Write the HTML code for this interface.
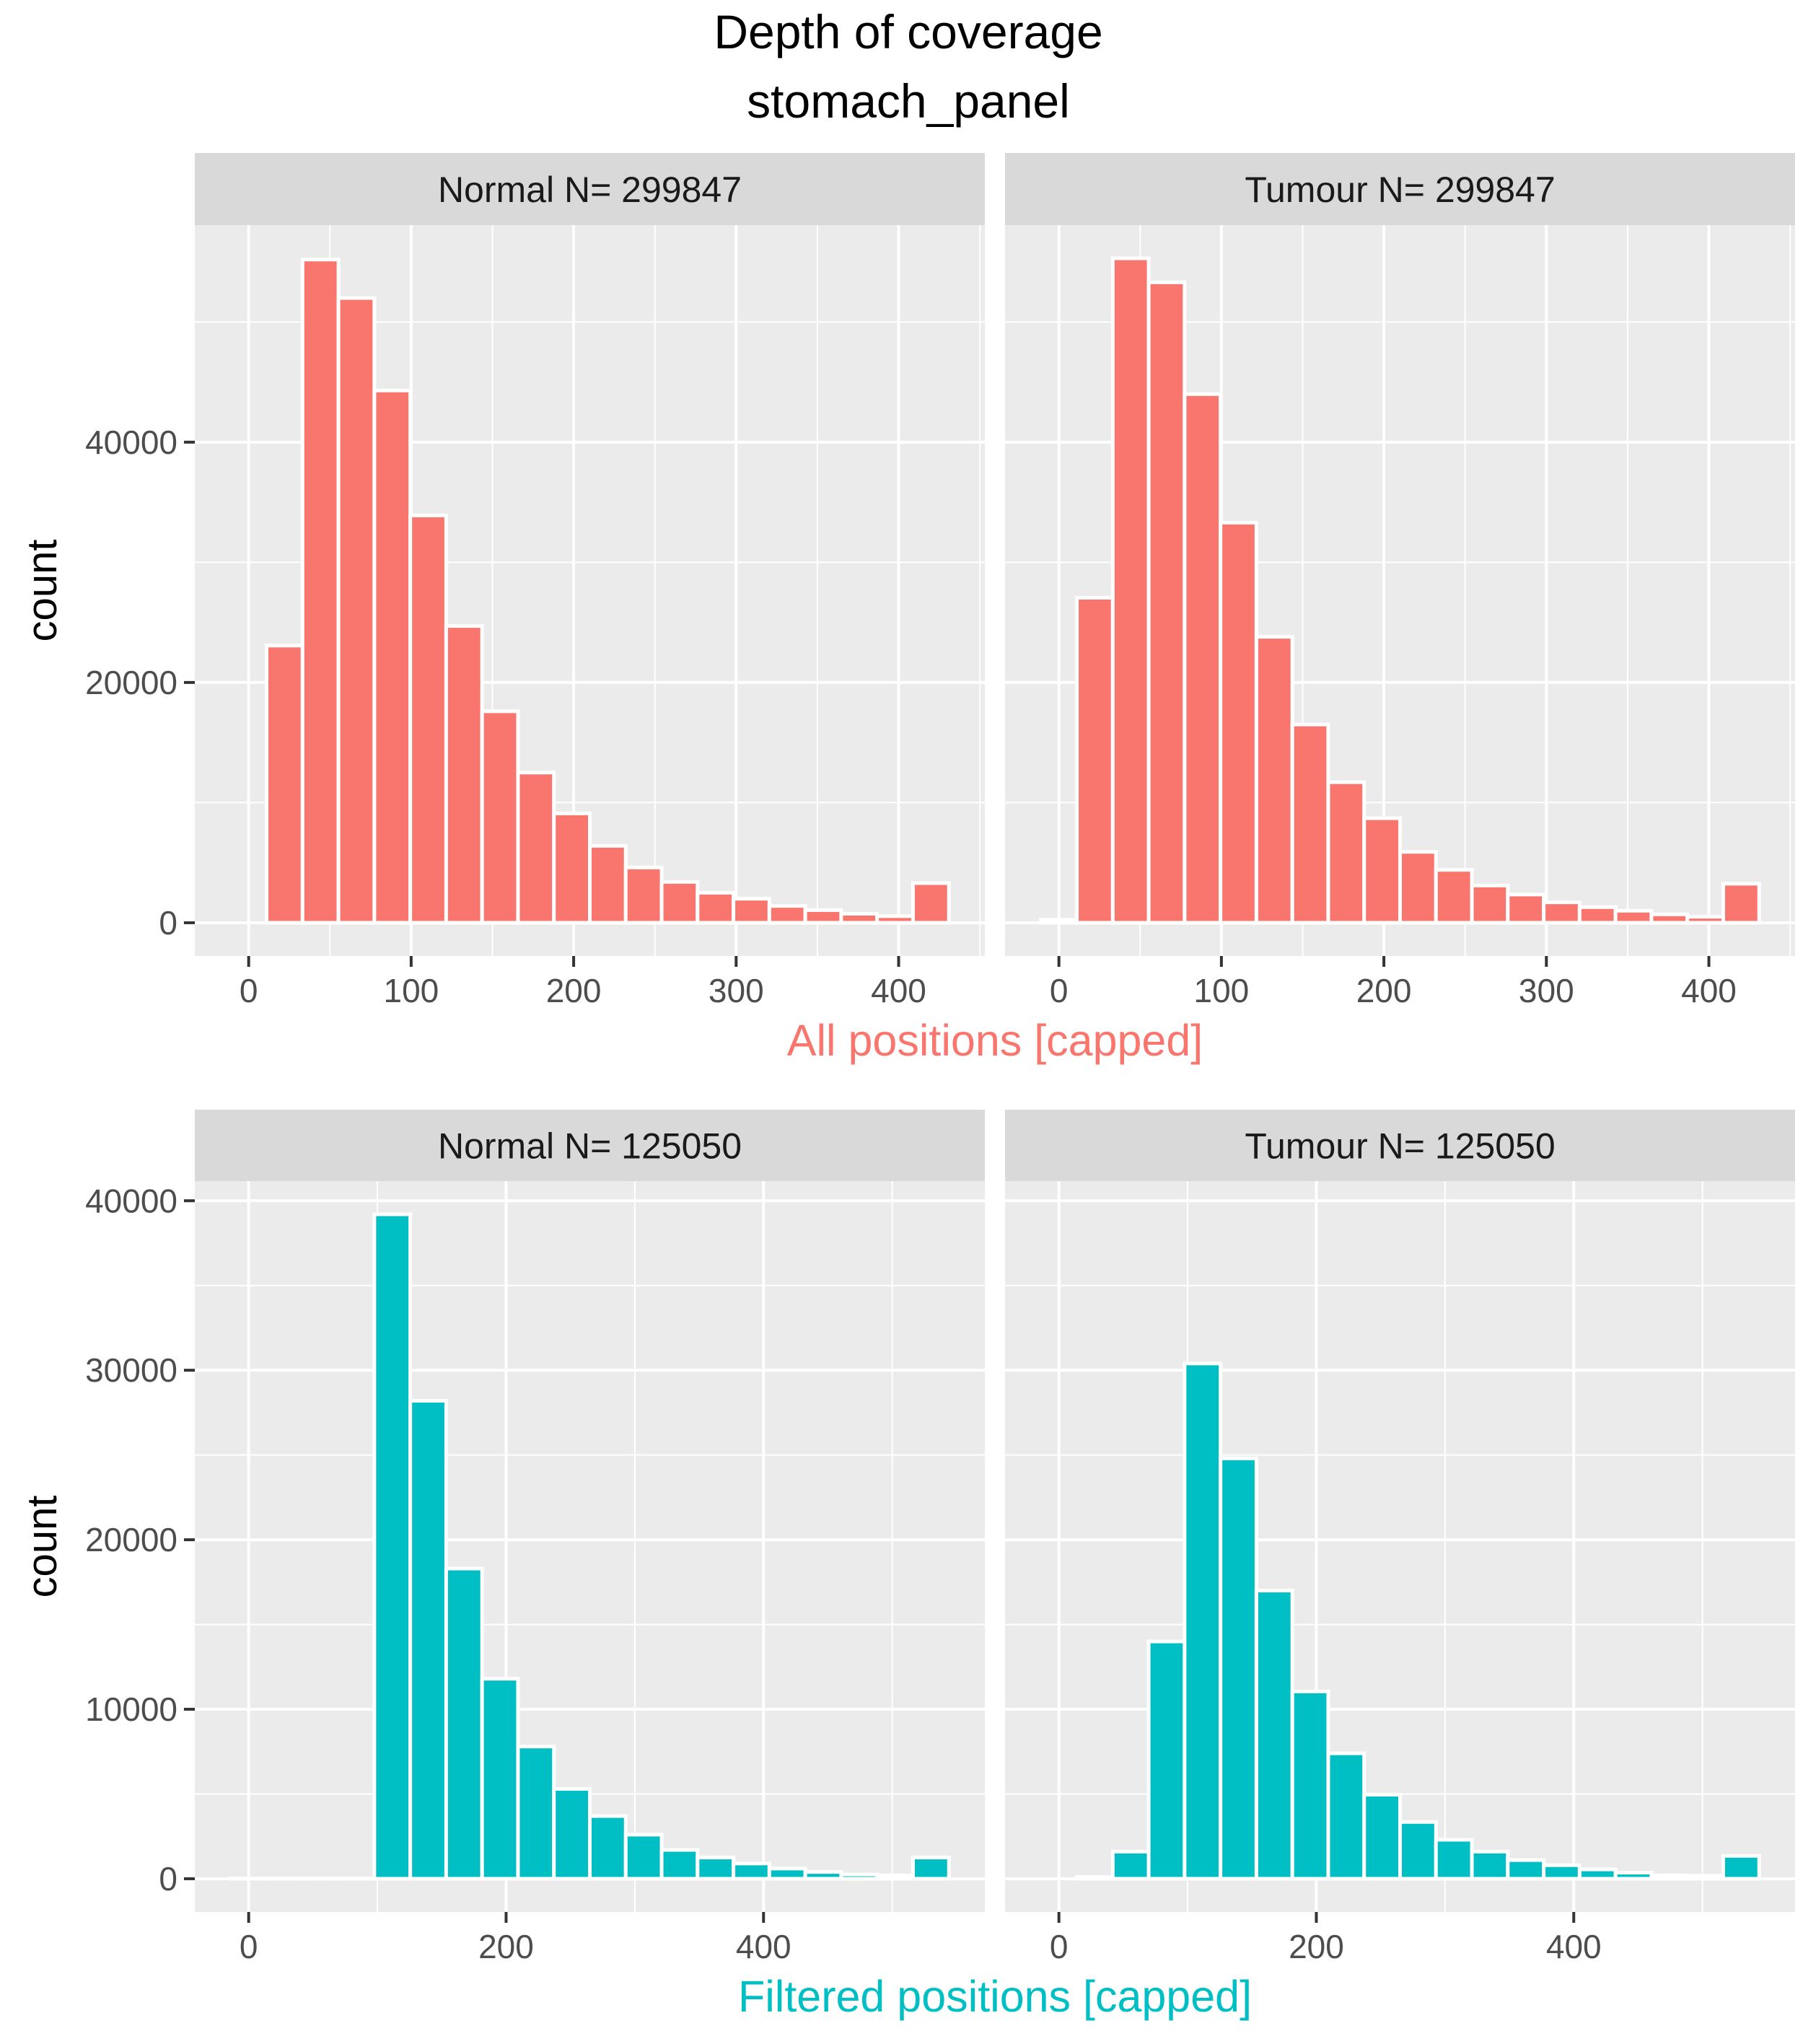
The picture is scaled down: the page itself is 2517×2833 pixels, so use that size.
<!DOCTYPE html>
<html><head><meta charset="utf-8"><style>
html,body{margin:0;padding:0;background:#fff;}
svg{display:block;font-family:"Liberation Sans",sans-serif;}
</style></head><body>
<svg id="chart" width="2517" height="2833" viewBox="0 0 2517 2833" xmlns="http://www.w3.org/2000/svg">
<text x="1259" y="67" font-size="66" text-anchor="middle" fill="#000">Depth of coverage</text>
<text x="1259" y="163" font-size="66" text-anchor="middle" fill="#000">stomach_panel</text>
<g id="plots"></g>
</svg>
<script>
// bin centers are k*binwidth, k = 0..19
const binWidthAll = 22.1;
const binWidthFiltered = 27.9;
const allNormal = [0, 23.07, 55.2, 52.0, 44.3, 33.9, 24.7, 17.6, 12.5, 9.1, 6.4, 4.6, 3.4, 2.5, 2.0, 1.4, 1.05, 0.75, 0.55, 3.3];
const allTumour = [0.25, 27.05, 55.3, 53.3, 44.0, 33.3, 23.8, 16.5, 11.7, 8.7, 5.9, 4.4, 3.1, 2.35, 1.7, 1.3, 1.0, 0.7, 0.5, 3.25];
const filtNormal = [0.02, 0.02, 0.02, 0.02, 39.2, 28.2, 18.3, 11.8, 7.8, 5.3, 3.7, 2.6, 1.7, 1.25, 0.9, 0.6, 0.4, 0.25, 0.2, 1.25];
const filtTumour = [0, 0.1, 1.6, 14.0, 30.4, 24.8, 17.0, 11.05, 7.4, 4.96, 3.35, 2.3, 1.6, 1.1, 0.8, 0.55, 0.36, 0.2, 0.18, 1.35];
const xTicksAll = [0, 100, 200, 300, 400];
const xTicksFilt = [0, 200, 400];
const yTicksAll = [0, 20000, 40000];
const yTicksFilt = [0, 10000, 20000, 30000, 40000];
const stripLabels = ["Normal N= 299847", "Tumour N= 299847", "Normal N= 125050", "Tumour N= 125050"];

const NS = "http://www.w3.org/2000/svg";
const root = document.getElementById('plots');
function mk(tag, attrs, parent) {
  const e = document.createElementNS(NS, tag);
  for (const k in attrs) e.setAttribute(k, attrs[k]);
  (parent || root).appendChild(e);
  return e;
}
const PX = [270, 1393], PW = 1095;
const rows = [
  {stripTop: 212, top: 312, bottom: 1325, bw: binWidthAll, data: [allNormal, allTumour], xt: xTicksAll, yt: yTicksAll, ystep: 10000, xstep: 50, color: "#F8766D", title: "All positions [capped]", tag: "all"},
  {stripTop: 1538, top: 1637, bottom: 2650, bw: binWidthFiltered, data: [filtNormal, filtTumour], xt: xTicksFilt, yt: yTicksFilt, ystep: 5000, xstep: 100, color: "#00BFC4", title: "Filtered positions [capped]", tag: "filtered"}
];
rows.forEach((r, ri) => {
  let maxV = 0;
  r.data.forEach(d => d.forEach(v => { if (v > maxV) maxV = v; }));
  maxV *= 1000;
  const y0 = -0.05 * maxV, y1 = maxV * 1.05;
  const xmin = -r.bw / 2, xmax = 19 * r.bw + r.bw / 2, xr = xmax - xmin;
  const xlo = xmin - 0.05 * xr, xhi = xmax + 0.05 * xr;
  r.data.forEach((d, pi) => {
    const left = PX[pi];
    const xs = v => left + (v - xlo) / (xhi - xlo) * PW;
    const ys = v => r.bottom - (v - y0) / (y1 - y0) * (r.bottom - r.top);
    const g = mk('g', {});
    
    
    const strip = mk('rect', {x: left, y: r.stripTop, width: PW, height: r.top - r.stripTop, fill: '#D9D9D9'}, g);
    
    
    const st = mk('text', {x: left + PW / 2, y: (r.stripTop + r.top) / 2 + 18, 'font-size': 50, 'text-anchor': 'middle', fill: '#1A1A1A'}, g);
    st.textContent = stripLabels[ri * 2 + pi];
    
    
    const bg = mk('rect', {x: left, y: r.top, width: PW, height: r.bottom - r.top, fill: '#EBEBEB'}, g);
    
    
    for (let v = r.ystep; v < y1; v += 2 * r.ystep) {
      const l = mk('line', {x1: left, x2: left + PW, y1: ys(v), y2: ys(v), stroke: '#fff', 'stroke-width': 2}, g);
      
      
    }
    for (let v = r.xstep; v < xhi; v += 2 * r.xstep) {
      const l = mk('line', {x1: xs(v), x2: xs(v), y1: r.top, y2: r.bottom, stroke: '#fff', 'stroke-width': 2}, g);
      
      
    }
    r.yt.forEach(v => {
      const l = mk('line', {x1: left, x2: left + PW, y1: ys(v), y2: ys(v), stroke: '#fff', 'stroke-width': 4}, g);
      
      
    });
    r.xt.forEach(v => {
      const l = mk('line', {x1: xs(v), x2: xs(v), y1: r.top, y2: r.bottom, stroke: '#fff', 'stroke-width': 4}, g);
      
      
      const t = mk('line', {x1: xs(v), x2: xs(v), y1: r.bottom, y2: r.bottom + 15, stroke: '#333', 'stroke-width': 4}, g);
      
      
      const tl = mk('text', {x: xs(v), y: r.bottom + 64, 'font-size': 46, 'text-anchor': 'middle', fill: '#4D4D4D'}, g);
      tl.textContent = v;
      
      
    });
    d.forEach((v, k) => {
      const c = k * r.bw;
      const val = v * 1000;
      const b = mk('rect', {x: xs(c - r.bw / 2), y: ys(val), width: xs(c + r.bw / 2) - xs(c - r.bw / 2), height: Math.max(0, ys(0) - ys(val)), fill: r.color, stroke: '#fff', 'stroke-width': 5}, g);
      
      
    });
    if (pi === 0) {
      r.yt.forEach(v => {
        const t = mk('line', {x1: left - 15, x2: left, y1: ys(v), y2: ys(v), stroke: '#333', 'stroke-width': 4}, g);
        
        
        const tl = mk('text', {x: left - 24, y: ys(v) + 16, 'font-size': 46, 'text-anchor': 'end', fill: '#4D4D4D'}, g);
        tl.textContent = v;
        
        
      });
      const cy = (r.top + r.bottom) / 2;
      const yl = mk('text', {x: 0, y: 0, 'font-size': 58, 'text-anchor': 'middle', fill: '#000', transform: 'translate(78,' + cy + ') rotate(-90)'}, g);
      yl.textContent = 'count';
      
      
    }
  });
  const xt = mk('text', {x: 1379, y: r.bottom + 138, 'font-size': 61, 'text-anchor': 'middle', fill: r.color});
  xt.textContent = r.title;
  
  
});
</script>
</body></html>
